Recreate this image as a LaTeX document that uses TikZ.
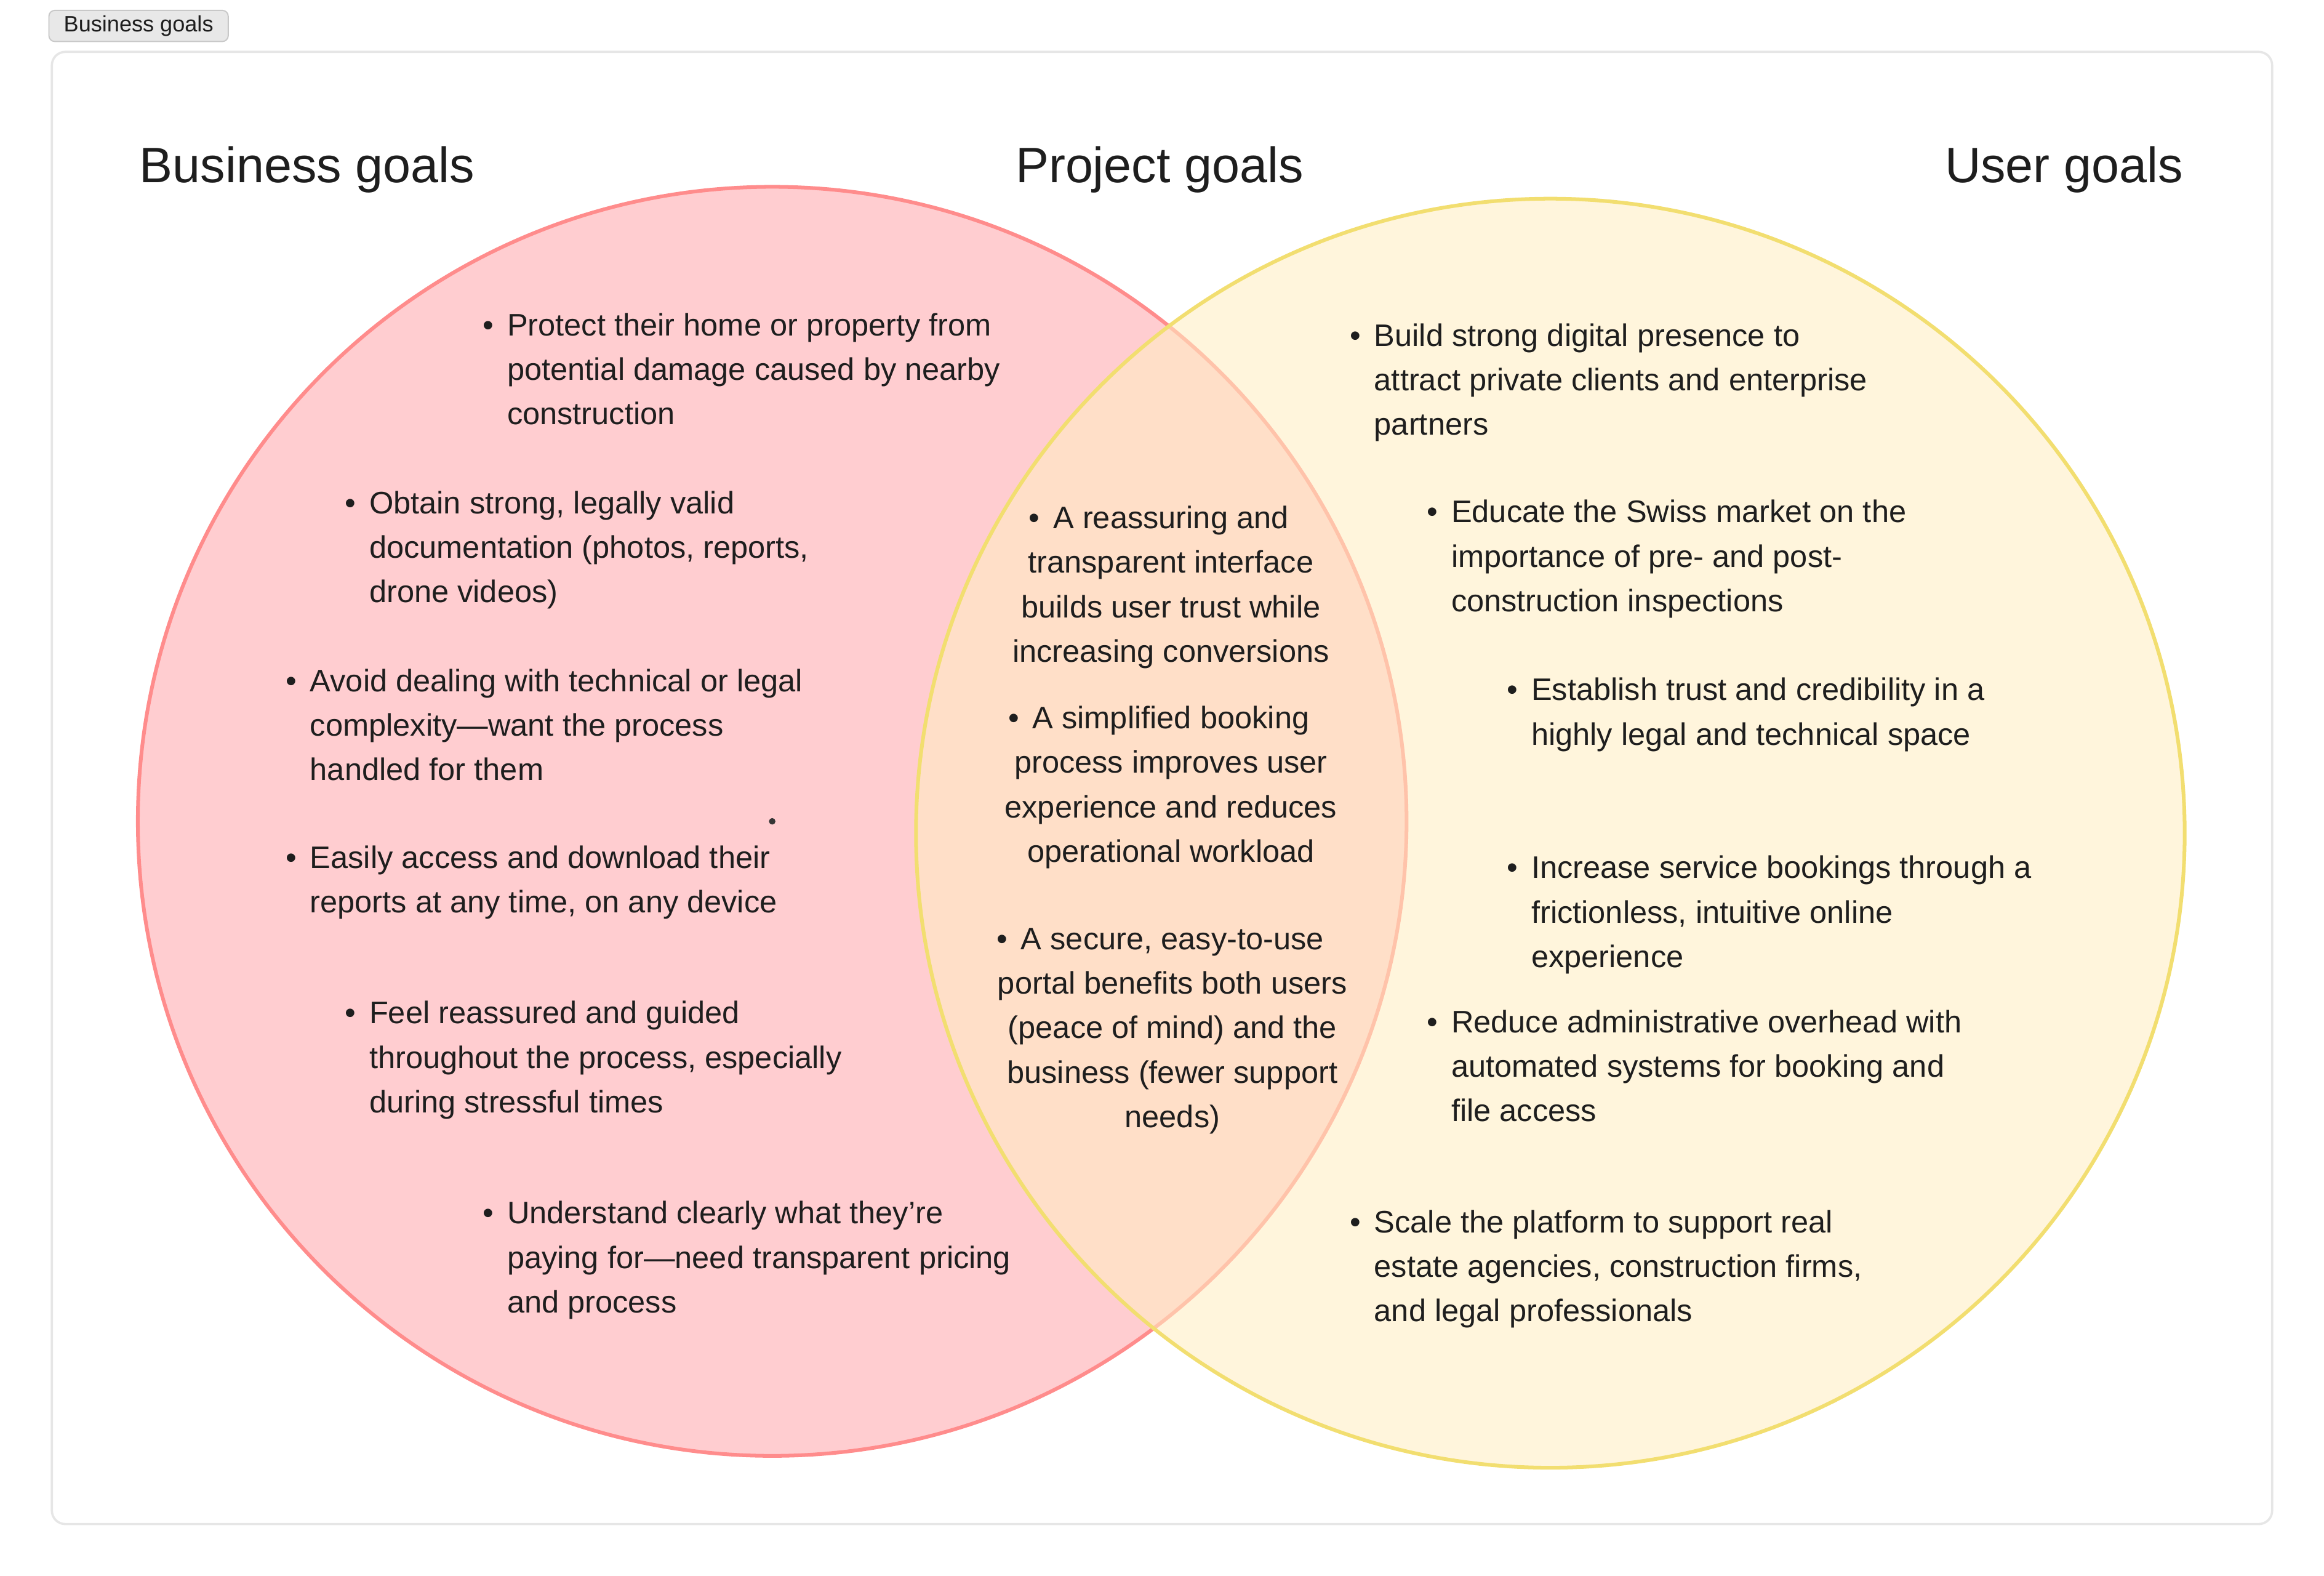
\documentclass[tikz,border=0pt]{standalone}
\usepackage{fontspec}
\setmainfont{Liberation Sans}
\definecolor{txtc}{RGB}{30,30,30}
\definecolor{framec}{RGB}{230,230,230}
\definecolor{tagfill}{RGB}{232,232,232}
\definecolor{tagline}{RGB}{200,200,200}
\definecolor{pinkfill}{RGB}{255,205,208}
\definecolor{pinkline}{RGB}{255,140,140}
\definecolor{creamfill}{RGB}{255,238,194}
\definecolor{yellowline}{RGB}{242,222,112}
\newcommand{\lbul}{\llap{\textbullet\hspace{9pt}}}
\tikzset{
  body/.style={font=\fontsize{21}{30}\selectfont, inner sep=0pt, text=txtc, yshift=-1.5pt},
  lefttext/.style={body, align=left, anchor=base west},
  midtext/.style={body, align=center, anchor=base},
  title/.style={font=\fontsize{33.6}{40}\selectfont, inner sep=0pt, text=txtc, anchor=base west},
}
\begin{document}
\begin{tikzpicture}[x=1pt,y=-1pt]
\useasboundingbox (0,0) rectangle (1568,1063);
\fill[white] (0,0) rectangle (1568,1063);
% tag
\node[draw=tagline, fill=tagfill, rounded corners=4pt, line width=0.8pt,
      minimum width=121pt, minimum height=21pt, inner sep=0pt,
      font=\fontsize{15}{18}\selectfont, text=txtc] (tag) at (93.5,17.5) {Business goals};
% frame
\draw[framec, line width=1.5pt, rounded corners=9pt] (35,35) rectangle (1533,1028);
% circles
\path[fill=pinkfill, draw=pinkline, line width=2.5pt] (521,554) circle[radius=428];
\path[fill=creamfill, fill opacity=0.57, draw=yellowline, line width=2.5pt] (1046,562) circle[radius=428];
\fill[txtc!90] (521,554) circle[radius=2.2];
% titles
\node[title] (t1) at (94,123) {Business goals};
\node[title] (t2) at (685,123) {Project goals};
\node[title] (t3) at (1312,123) {User goals};
% business goals (anchor = baseline of last line)
\node[lefttext] (b1) at (342,285) {\lbul Protect their home or property from\\potential damage caused by nearby\\construction};
\node[lefttext] (b2) at (249,405) {\lbul Obtain strong, legally valid\\documentation (photos, reports,\\drone videos)};
\node[lefttext] (b3) at (209,525) {\lbul Avoid dealing with technical or legal\\complexity—want the process\\handled for them};
\node[lefttext] (b4) at (209,614) {\lbul Easily access and download their\\reports at any time, on any device};
\node[lefttext] (b5) at (249,749) {\lbul Feel reassured and guided\\throughout the process, especially\\during stressful times};
\node[lefttext] (b6) at (342,884) {\lbul Understand clearly what they’re\\paying for—need transparent pricing\\and process};
% project goals
\node[midtext] (p1) at (790,445) {\lbul A reassuring and\\transparent interface\\builds user trust while\\increasing conversions};
\node[midtext] (p2) at (790,580) {\lbul A simplified booking\\process improves user\\experience and reduces\\operational workload};
\node[midtext] (p3) at (791,759) {\lbul A secure, easy-to-use\\portal benefits both users\\(peace of mind) and the\\business (fewer support\\needs)};
% user goals
\node[lefttext] (u1) at (927,292) {\lbul Build strong digital presence to\\attract private clients and enterprise\\partners};
\node[lefttext] (u2) at (979,411) {\lbul Educate the Swiss market on the\\importance of pre- and post-\\construction inspections};
\node[lefttext] (u3) at (1033,501) {\lbul Establish trust and credibility in a\\highly legal and technical space};
\node[lefttext] (u4) at (1033,651) {\lbul Increase service bookings through a\\frictionless, intuitive online\\experience};
\node[lefttext] (u5) at (979,755) {\lbul Reduce administrative overhead with\\automated systems for booking and\\file access};
\node[lefttext] (u6) at (927,890) {\lbul Scale the platform to support real\\estate agencies, construction firms,\\and legal professionals};
\end{tikzpicture}
\end{document}
